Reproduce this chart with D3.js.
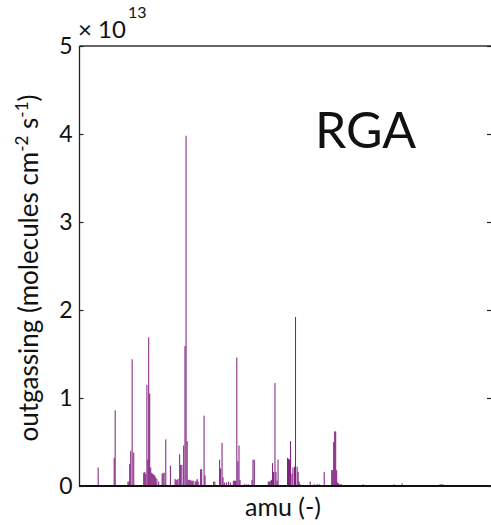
<!DOCTYPE html>
<html>
<head>
<meta charset="utf-8">
<script src="https://cdn.jsdelivr.net/npm/d3@7/dist/d3.min.js"></script>
<style>
  html, body { margin: 0; padding: 0; background: #fff; }
  svg { display: block; }
  text { font-family: Lato, "Open Sans", sans-serif; fill: #111; }
</style>
</head>
<body>
<svg id="chart" width="491" height="525"></svg>
<script>
// mass channel (amu, arbitrary offset scale) and outgassing value (x 10^13 molecules cm^-2 s^-1)
const amu = [
  18.7, 34.7, 35.7, 48.5, 49.5, 50.3, 51.3, 52.7, 54.3,
  64.3, 65.3, 66.3, 67.5, 68.5, 69.3, 70.3, 71.3, 72.3, 73.3, 74.3, 75.3, 76.3, 77.5, 79.3,
  82.7, 83.7, 84.7, 86.4, 91, 95.7, 96.7, 97.7, 98.7, 100.3, 101.3, 102.5, 104.3, 105.6, 106.7, 107.8,
  108.8, 109.8, 110.8, 111.8, 112.8, 113.8, 115.8, 116.8, 117.8, 118.8, 121.3, 122.3, 124.7, 125.7,
  134.3, 135.5, 140.3, 141.3, 142.7, 143.7, 145, 147, 149, 151,
  154, 155.3, 156.3, 157.5, 158.6, 159.7, 160.7, 165, 167, 169, 172.7, 173.7, 175,
  189, 190, 191, 192.3, 193.3, 194.3, 195.7, 196.7, 197.8, 198.8,
  208.3, 209.3, 210.3, 211.3, 212.7, 213.7, 215.3, 216.3, 217.9, 218.9, 219.9, 220.9,
  231, 235, 238, 240, 245,
  252.5, 253.5, 254.5, 255.5, 256.5, 257.5, 258.5, 259.5, 261, 262,
  284, 315, 323, 361, 362.5, 364, 381
];
const outgassing = [
  0.21, 0.32, 0.86, 0.05, 0.05, 0.25, 0.40, 1.44, 0.38,
  0.15, 0.16, 0.14, 1.15, 0.30, 1.69, 1.05, 0.21, 0.15, 0.14, 0.13, 0.12, 0.10, 0.08, 0.05,
  0.14, 0.15, 0.15, 0.53, 0.23, 0.08, 0.07, 0.07, 0.08, 0.36, 0.24, 0.24, 0.46, 1.59, 3.98, 0.51,
  0.07, 0.07, 0.07, 0.06, 0.06, 0.06, 0.05, 0.06, 0.08, 0.05, 0.19, 0.19, 0.80, 0.12,
  0.05, 0.05, 0.30, 0.20, 0.49, 0.10, 0.04, 0.04, 0.05, 0.04,
  0.06, 0.06, 0.06, 1.46, 0.28, 0.46, 0.07, 0.02, 0.02, 0.02, 0.07, 0.30, 0.30,
  0.05, 0.05, 0.06, 0.07, 0.26, 0.16, 1.17, 0.16, 0.06,
  0.30, 0.32, 0.31, 0.30, 0.51, 0.14, 0.21, 0.22, 1.92, 0.22, 0.16, 0.05,
  0.02, 0.05, 0.02, 0.02, 0.02,
  0.16, 0.18, 0.18, 0.50, 0.62, 0.62, 0.18, 0.04, 0.03, 0.02,
  0.02, 0.02, 0.02, 0.03, 0.02, 0.02, 0.02
];
const yTicks = [0, 1, 2, 3, 4, 5];
const yTickLabels = ["0", "1", "2", "3", "4", "5"];
const amuDomain = [0, 413];
const yDomain = [0, 5];

(function () {
const svg = d3.select("#chart");
const pl = 79.5, pr = 492, pt = 46, pb = 486;

const x = d3.scaleLinear().domain(amuDomain).range([pl, pr]);
const y = d3.scaleLinear().domain(yDomain).range([pb, pt]);

const data = amu.map((a, i) => ({a, v: outgassing[i]}));
const barW = x(1.0) - x(0);

// bars
svg.append("g")
  .selectAll("rect")
  .data(data)
  .join("rect")
  .attr("x", d => x(d.a) - barW / 2)
  .attr("width", barW)
  .attr("y", d => y(d.v))
  .attr("height", d => y(0) - y(d.v))
  .attr("fill", "#7b1a7c");

// frame
svg.append("line").attr("x1", pl).attr("x2", pl).attr("y1", pt).attr("y2", pb)
  .attr("stroke", "#222").attr("stroke-width", 1.3);
svg.append("line").attr("x1", pl).attr("x2", pr).attr("y1", pt).attr("y2", pt)
  .attr("stroke", "#333").attr("stroke-width", 1.5);
svg.append("line").attr("x1", pl - 0.5).attr("x2", pr).attr("y1", pb).attr("y2", pb)
  .attr("stroke", "#111").attr("stroke-width", 2);

// left axis (ticks inward)
const yAxis = d3.axisLeft(y).tickValues(yTicks)
  .tickFormat((d, i) => yTickLabels[i])
  .tickSizeInner(-4).tickSizeOuter(0).tickPadding(7);
const ga = svg.append("g").attr("transform", `translate(${pl},0)`).call(yAxis);
ga.select(".domain").remove();
ga.selectAll(".tick line").attr("stroke", "#222").attr("stroke-width", 1.2);
ga.selectAll(".tick text").attr("font-size", 23).attr("font-family", "Lato, sans-serif")
  .attr("fill", "#111");

// right ticks (inward)
const yAxisR = d3.axisRight(y).tickValues(yTicks).tickFormat("")
  .tickSizeInner(-4).tickSizeOuter(0);
const gr = svg.append("g").attr("transform", `translate(${pr - 1},0)`).call(yAxisR);
gr.select(".domain").remove();
gr.selectAll(".tick line").attr("stroke", "#222").attr("stroke-width", 1.2);

// exponent
const ex = svg.append("text").attr("x", 78).attr("y", 38).attr("font-size", 24);
ex.append("tspan").text("× 10");
ex.append("tspan").attr("dy", -20).attr("dx", 2).attr("font-size", 16).text("13");

// y label
const yl = svg.append("text")
  .attr("transform", "translate(38,268) rotate(-90)")
  .attr("text-anchor", "middle").attr("font-size", 26);
yl.append("tspan").text("outgassing (molecules cm");
yl.append("tspan").attr("dy", -10).attr("font-size", 17).text("-2");
yl.append("tspan").attr("dy", 10).text(" s");
yl.append("tspan").attr("dy", -10).attr("font-size", 17).text("-1");
yl.append("tspan").attr("dy", 10).text(")");

// x label
svg.append("text").attr("x", 283).attr("y", 516).attr("text-anchor", "middle")
  .attr("font-size", 25).text("amu (-)");

// annotation
svg.append("text").attr("x", 315).attr("y", 148).attr("font-size", 50).text("RGA");
})();
</script>
</body>
</html>
